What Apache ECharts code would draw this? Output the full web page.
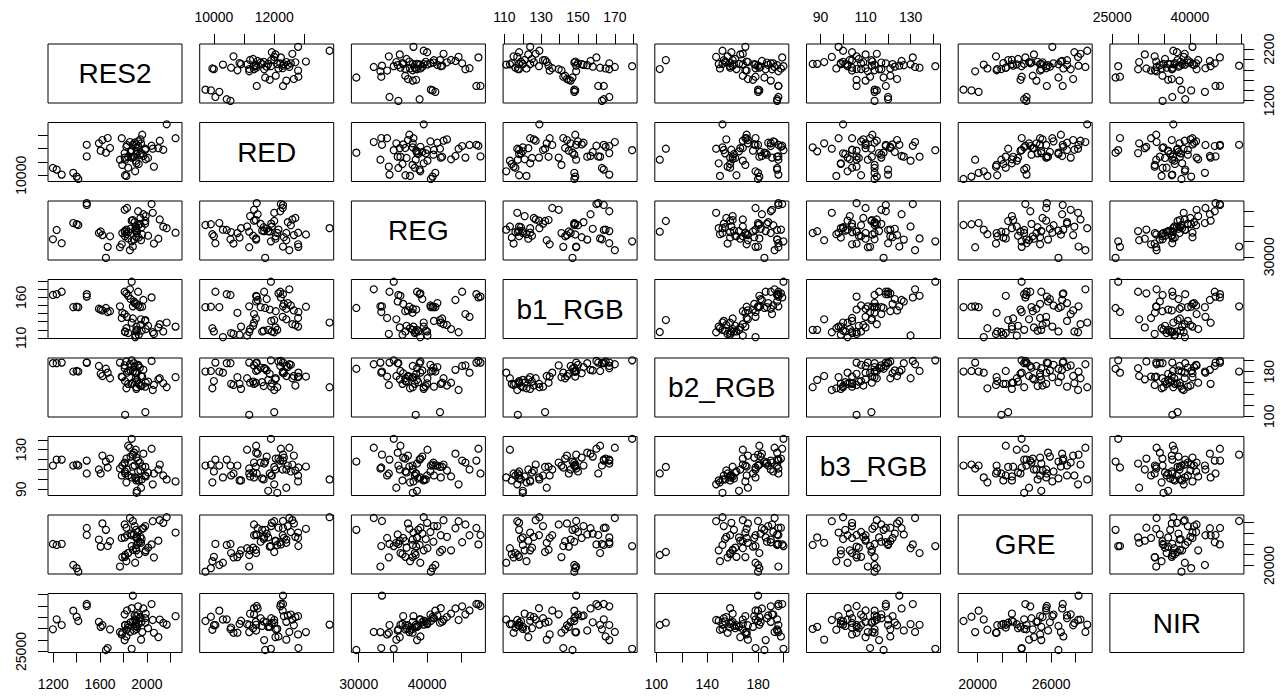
<!DOCTYPE html>
<html>
<head>
<meta charset="utf-8">
<title>Scatterplot matrix</title>
<script src="https://cdn.jsdelivr.net/npm/echarts@6/dist/echarts.min.js"></script>
<style>
  html, body { margin: 0; padding: 0; background: #ffffff; }
  #chart { width: 1283px; height: 696px; }
</style>
</head>
<body>
<div id="chart"></div>
<script>
// Variable names shown on the diagonal
const varNames = ['RES2', 'RED', 'REG', 'b1_RGB', 'b2_RGB', 'b3_RGB', 'GRE', 'NIR'];

// One value per sample for every variable
const RES2 = [1197, 1229, 1272, 1371, 1400, 1414, 1486, 1486, 1814, 1987,
  1590, 1620, 1650, 1665, 1685, 1605, 1785, 1870, 1880, 1810,
  1825, 1840, 1925, 1890, 1910, 1925, 1940, 1960, 1970, 2040,
  1790, 1810, 1830, 1880, 1855, 1813, 1825, 1840, 1900, 1905,
  1908, 1912, 1915, 1910, 1945, 1990, 2050, 2098, 2140, 2169,
  2245, 2060, 1870, 1950, 1985, 1770, 1955, 1895, 2010, 1860,
  1930, 2110];
const RED = [10550, 10425, 10050, 10180, 9900, 9720, 12290, 11420, 11171, 12000,
  12400, 12650, 11700, 12800, 12050, 11850, 12790, 11890, 12290, 11666,
  12140, 11400, 12200, 11400, 12320, 12550, 11550, 13050, 11450, 12220,
  10780, 11330, 12280, 11390, 12500, 10000, 9950, 10570, 10300, 11100,
  11600, 12100, 11800, 10900, 12700, 11200, 12000, 12040, 11920, 13833,
  12790, 10650, 11330, 12400, 11900, 11170, 11650, 12450, 11300, 11750,
  10850, 12600];
const REG = [35800, 38900, 34500, 41200, 40800, 40550, 47200, 47800, 38330, 41880,
  37900, 37200, 29650, 33300, 36800, 38400, 34150, 35120, 33400, 38530,
  39020, 36100, 45120, 35700, 36500, 40480, 40920, 37400, 44140, 47500,
  37870, 45600, 46200, 42200, 32200, 36830, 37500, 38200, 39000, 40050,
  38700, 37900, 38500, 39500, 42900, 43500, 44600, 36000, 40000, 39500,
  38000, 34400, 42000, 35500, 41000, 33170, 39800, 41500, 37000, 39300,
  36400, 42400];
const b1_RGB = [163, 164, 167, 148, 148.5, 148, 164, 161, 117.3, 132.1,
  146, 144, 147, 142, 143, 145, 134.6, 179.4, 149, 167,
  165, 162, 167, 155, 152, 150, 148, 148.5, 156.8, 160,
  141, 139.5, 136, 134, 170, 118, 122, 116, 111, 113,
  118, 120, 120, 124, 126, 121, 117, 123, 118, 129,
  124, 115, 128.8, 133, 131, 149, 119, 153, 125, 158,
  114, 127];
const b2_RGB = [195, 195, 196, 180, 181, 180, 196, 196, 102.6, 107.4,
  190, 172, 185, 178, 168, 176, 171, 200, 180, 186,
  198, 181, 190, 195, 177, 192, 187, 171, 183, 199,
  170, 191, 178, 160, 193, 163, 150, 158, 178, 168,
  161, 152, 165, 149, 155, 160, 147, 166, 159, 152,
  170, 156, 158, 172, 153, 196, 154, 188, 162, 182,
  158, 168];
const b3_RGB = [114, 120, 120, 114, 115, 114, 119, 106, 106, 112.6,
  110, 124, 118, 112, 121, 106, 104, 141, 125, 116,
  121, 134, 119, 127, 122, 108, 117, 113, 126, 131,
  114, 117, 110, 112.8, 132, 108, 97, 104, 102, 130,
  101, 86.5, 88.5, 99, 109, 103, 95, 110, 104, 100,
  98, 106, 102, 91.6, 104, 111, 100, 114, 107, 123,
  99, 115];
const GRE = [23980, 23800, 24000, 20085, 19500, 18850, 26950, 25650, 21939, 22495,
  24800, 27800, 26600, 23600, 24500, 23500, 25100, 23590, 28240, 25200,
  27000, 22300, 24300, 25750, 25100, 26200, 24400, 26800, 26900, 23900,
  21550, 27600, 25600, 22900, 28800, 21600, 20800, 22300, 20500, 23200,
  26600, 23800, 25200, 22800, 25300, 22800, 28200, 24600, 27900, 28950,
  26100, 21500, 25600, 24200, 27300, 19800, 24900, 27300, 23300, 25900,
  22100, 28400];
const NIR = [34730, 39100, 36600, 42900, 40250, 38370, 45820, 44950, 36614, 37620,
  38000, 36500, 25650, 26500, 34700, 35800, 32500, 26160, 49500, 30000,
  31600, 36700, 44800, 34200, 40500, 41200, 39600, 33500, 43860, 45790,
  33240, 41290, 43000, 38070, 33570, 36500, 34530, 35500, 39030, 37000,
  36200, 34900, 35800, 38500, 40100, 41600, 38800, 31300, 37500, 36800,
  40500, 33200, 44000, 30200, 39600, 33500, 38200, 40800, 35200, 37800,
  37100, 39000];

// Plot range of every variable (data range widened by 4% on each side)
const axisMin = [1155, 9530, 28930, 109.3, 98.7, 83.75, 18416, 24556];
const axisMax = [2300, 13970, 48520, 182.1, 204.2, 143.3, 29355, 50425];

// Tick positions and the tick labels that are printed
const tickValues = [
  [1200, 1400, 1600, 1800, 2000, 2200],
  [10000, 11000, 12000, 13000],
  [30000, 35000, 40000, 45000],
  [110, 120, 130, 140, 150, 160, 170, 180],
  [100, 120, 140, 160, 180, 200],
  [90, 100, 110, 120, 130, 140],
  [20000, 22000, 24000, 26000, 28000],
  [25000, 30000, 35000, 40000, 45000, 50000]
];
const xTickLabels = [
  [1200, 1600, 2000],
  [10000, 12000],
  [30000, 40000],
  [110, 130, 150, 170],
  [100, 140, 180],
  [90, 110, 130],
  [20000, 26000],
  [25000, 40000]
];
const yTickLabels = [
  [1200, 2200],
  [10000],
  [30000],
  [110, 160],
  [100, 180],
  [90, 130],
  [20000],
  [25000]
];

const columns = [RES2, RED, REG, b1_RGB, b2_RGB, b3_RGB, GRE, NIR];

// Panel layout
const nVar = varNames.length;
const panelLeft0 = 48, colStep = 151.7, panelW = 134;
const panelTop0 = 44, rowStep = 78.5, panelH = 59;
const fontFamily = '"Liberation Sans", Arial, Helvetica, sans-serif';

const grids = [], xAxes = [], yAxes = [], series = [], graphics = [];

for (let i = 0; i < nVar; i++) {
  for (let j = 0; j < nVar; j++) {
    const g = i * nVar + j;
    const left = panelLeft0 + colStep * j;
    const top = panelTop0 + rowStep * i;
    grids.push({
      left: left, top: top, width: panelW, height: panelH,
      show: true, borderColor: '#000', borderWidth: 1,
      backgroundColor: 'transparent'
    });

    const diag = i === j;
    const xTop = j % 2 === 1;
    const xOuter = !diag && ((i === 0 && xTop) || (i === nVar - 1 && !xTop));
    const yLeft = i % 2 === 1;
    const yOuter = !diag && ((j === 0 && yLeft) || (j === nVar - 1 && !yLeft));

    xAxes.push({
      gridIndex: g, type: 'value', show: !diag,
      min: axisMin[j], max: axisMax[j],
      position: xTop ? 'top' : 'bottom',
      axisLine: { show: false, onZero: false },
      splitLine: { show: false },
      axisTick: {
        show: xOuter, length: 10, inside: false,
        lineStyle: { color: '#000', width: 1 },
        customValues: tickValues[j]
      },
      axisLabel: {
        show: xOuter, customValues: xTickLabels[j],
        formatter: v => String(v),
        color: '#000', fontSize: 14, fontFamily: fontFamily,
        margin: xTop ? 20 : 24
      }
    });
    yAxes.push({
      gridIndex: g, type: 'value', show: !diag,
      min: axisMin[i], max: axisMax[i],
      position: yLeft ? 'left' : 'right',
      axisLine: { show: false, onZero: false },
      splitLine: { show: false },
      axisTick: {
        show: yOuter, length: 10, inside: false,
        lineStyle: { color: '#000', width: 1 },
        customValues: tickValues[i]
      },
      axisLabel: {
        show: yOuter, customValues: yTickLabels[i],
        formatter: v => String(v), rotate: 90,
        color: '#000', fontSize: 14, fontFamily: fontFamily,
        margin: yLeft ? 20 : 18
      }
    });

    if (diag) {
      graphics.push({
        type: 'text',
        x: left + panelW / 2,
        y: top + panelH / 2,
        silent: true,
        style: {
          text: varNames[i],
          fill: '#000',
          fontSize: 28,
          fontFamily: fontFamily,
          font: '28px ' + fontFamily,
          align: 'center', verticalAlign: 'middle',
          textAlign: 'center', textVerticalAlign: 'middle'
        }
      });
    } else {
      const xs = columns[j], ys = columns[i];
      series.push({
        type: 'scatter',
        xAxisIndex: g, yAxisIndex: g,
        data: xs.map((v, k) => [v, ys[k]]),
        symbol: 'circle', symbolSize: 7,
        itemStyle: { color: 'rgba(0,0,0,0)', borderColor: '#000', borderWidth: 1.2, opacity: 1 },
        emphasis: { disabled: true },
        silent: true
      });
    }
  }
}

const chart = echarts.init(document.getElementById('chart'), null, { renderer: 'svg', width: 1283, height: 696 });
chart.setOption({
  backgroundColor: '#ffffff',
  animation: false,
  tooltip: { show: false },
  grid: grids,
  xAxis: xAxes,
  yAxis: yAxes,
  series: series,
  graphic: graphics
});
</script>
</body>
</html>
